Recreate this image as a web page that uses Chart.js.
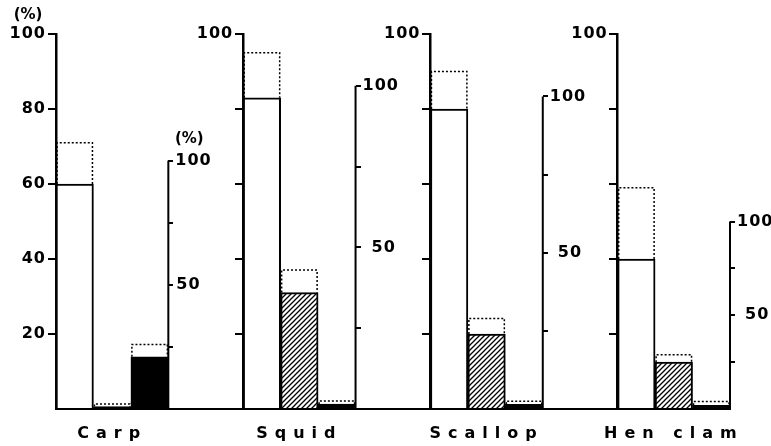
<!DOCTYPE html>
<html>
<head>
<meta charset="utf-8">
<style>
  html, body { margin: 0; padding: 0; background: #fff; }
  canvas { display: block; }
</style>
<script src="https://cdn.jsdelivr.net/npm/chart.js@4.4.0/dist/chart.umd.min.js"></script>
</head>
<body>
<canvas id="fish" width="771" height="446"></canvas>
<script>
// values, in %
const groups = ['Carp', 'Squid', 'Scallop', 'Hen clam'];
const bar1 = [60, 83, 80, 40];          // left axis, solid top
const bar1Total = [71, 95, 90, 59];     // left axis, dotted top
const bar2 = [1, 36, 24, 25];           // right axis
const bar2Total = [2, 43, 29, 29];
const bar3 = [21, 1.5, 1.5, 2];         // right axis
const bar3Total = [26, 2.5, 2.5, 4];
const leftTicks = [0, 20, 40, 60, 80, 100];
const leftLabelsCarp = [20, 40, 60, 80, 100];
const leftLabelsOther = [100];
const rightTicks = [0, 25, 50, 75, 100];
const rightLabels = [50, 100];

// layout: each group uses 3 slots, then 2 empty slots
const SLOTS = 18;
const rightAxisMax = [151, 116, 120, 200]; // so each right axis reaches its drawn height
const rightLabelGap = [8, 16, 15, 15];     // offset of the "50" label from the right axis
const slot = (g, k) => g * 5 + k;

function spread(vals, k) {
  const a = Array(SLOTS).fill(null);
  vals.forEach((v, g) => { a[slot(g, k)] = v; });
  return a;
}

const labels = Array(SLOTS).fill('');
groups.forEach((name, g) => { labels[slot(g, 1)] = name; });

function makeHatch() {
  const p = document.createElement('canvas');
  p.width = 5; p.height = 5;
  const c = p.getContext('2d');
  c.fillStyle = '#fff';
  c.fillRect(0, 0, 5, 5);
  c.strokeStyle = '#000';
  c.lineWidth = 1.3;
  c.beginPath();
  c.moveTo(0, 5); c.lineTo(5, 0);
  c.moveTo(-1, 1); c.lineTo(1, -1);
  c.moveTo(4, 6); c.lineTo(6, 4);
  c.stroke();
  return c.createPattern(p, 'repeat');
}
const hatch = makeHatch();

const font = { family: 'DejaVu Sans', size: 16, weight: 'bold' };
const hideZero = (ctx) => (ctx.tick && ctx.tick.value === 0 ? 'rgba(0,0,0,0)' : '#000');

const datasets = [{
  data: spread(bar1, 0),
  yAxisID: 'yL0',
  backgroundColor: '#fff',
  borderColor: '#000',
  borderWidth: 2
}];
groups.forEach((name, g) => {
  const d = Array(SLOTS).fill(null);
  d[slot(g, 1)] = bar2[g];
  d[slot(g, 2)] = bar3[g];
  datasets.push({
    data: d,
    yAxisID: 'yR' + g,
    backgroundColor: (ctx) => (ctx.dataIndex === slot(g, 1) && g > 0 ? hatch : '#000'),
    borderColor: '#000',
    borderWidth: 2
  });
});

const scales = {
  x: {
    type: 'category',
    offset: true,
    grid: { display: false, drawTicks: false },
    border: { display: true, color: '#000', width: 2 },
    ticks: { autoSkip: false, maxRotation: 0, padding: 15, color: '#000', font: font, z: 1 },
    afterFit: (s) => { s.height = 37; }
  }
};
groups.forEach((name, g) => {
  scales['yL' + g] = {
    type: 'linear', axis: 'y',
    position: { x: slot(g, 0) - 0.5 },
    min: 0, max: 100,
    afterBuildTicks: (s) => { s.ticks = leftTicks.map((v) => ({ value: v })); },
    ticks: { display: false },
    grid: { drawOnChartArea: false, tickLength: 7, lineWidth: 2, color: hideZero },
    border: { display: true, color: '#000', width: 2.5 }
  };
  scales['yR' + g] = {
    type: 'linear', axis: 'y',
    position: { x: slot(g, 2) + 0.5 },
    min: 0, max: rightAxisMax[g],
    afterBuildTicks: (s) => { s.ticks = rightTicks.map((v) => ({ value: v })); },
    ticks: { display: false },
    grid: { drawOnChartArea: false, tickLength: -5, lineWidth: 2, color: hideZero },
    border: { display: false }
  };
});

// right axis lines (0..100 only), tick labels beside the inner axes, dotted totals, (%) marks
const figure = {
  id: 'figure',
  afterDatasetsDraw(chart) {
    const c = chart.ctx;
    const x = chart.scales.x;
    const half = (x.getPixelForValue(1) - x.getPixelForValue(0)) / 2;
    c.save();
    c.strokeStyle = '#000';
    c.fillStyle = '#000';
    c.letterSpacing = '1px';
    c.font = 'bold 16px "DejaVu Sans"';
    c.textBaseline = 'middle';
    groups.forEach((name, g) => {
      const yl = chart.scales['yL' + g];
      const yr = chart.scales['yR' + g];
      const lx = x.getPixelForValue(slot(g, 0) - 0.5);
      const rx = x.getPixelForValue(slot(g, 2) + 0.5);
      c.setLineDash([]);
      c.lineWidth = 2;
      c.beginPath();
      c.moveTo(rx, yr.getPixelForValue(0));
      c.lineTo(rx, yr.getPixelForValue(100));
      c.stroke();

      // tick labels
      c.textAlign = 'right';
      (g === 0 ? leftLabelsCarp : leftLabelsOther).forEach((v) => {
        c.fillText(String(v), lx - 10, yl.getPixelForValue(v));
      });
      c.textAlign = 'left';
      rightLabels.forEach((v) => {
        const gap = v === 100 ? 7 : rightLabelGap[g];
        c.fillText(String(v), rx + gap, yr.getPixelForValue(v));
      });

      const bars = [
        [chart.scales.yL0, bar1[g], bar1Total[g]],
        [yr, bar2[g], bar2Total[g]],
        [yr, bar3[g], bar3Total[g]]
      ];
      c.setLineDash([2, 2]);
      c.lineWidth = 1.5;
      bars.forEach(([s, v, t], k) => {
        const xc = x.getPixelForValue(slot(g, k));
        const l = xc - half + 1, r = xc + half - 1;
        const y0 = s.getPixelForValue(v), y1 = s.getPixelForValue(t);
        c.beginPath();
        c.moveTo(l, y0); c.lineTo(l, y1); c.lineTo(r, y1); c.lineTo(r, y0);
        c.stroke();
      });
    });
    c.font = 'bold 15px "DejaVu Sans"';
    c.letterSpacing = '0px';
    c.textAlign = 'center';
    const l0 = x.getPixelForValue(-0.5);
    c.fillText('(%)', l0 - 28, chart.scales.yL0.getPixelForValue(100) - 19);
    const r0 = x.getPixelForValue(2.5);
    c.fillText('(%)', r0 + 21, chart.scales.yR0.getPixelForValue(100) - 22);
    c.restore();
    c.letterSpacing = '7px';
  },
  afterDraw(chart) { chart.ctx.letterSpacing = '0px'; }
};

new Chart(document.getElementById('fish'), {
  type: 'bar',
  data: { labels: labels, datasets: datasets },
  options: {
    responsive: false,
    animation: false,
    events: [],
    devicePixelRatio: 1,
    layout: { padding: { top: 34, left: 56, right: 41, bottom: 0 } },
    datasets: { bar: { grouped: false, barPercentage: 1, categoryPercentage: 1 } },
    plugins: { legend: { display: false }, tooltip: { enabled: false } },
    scales: scales
  },
  plugins: [figure]
});
</script>
</body>
</html>
